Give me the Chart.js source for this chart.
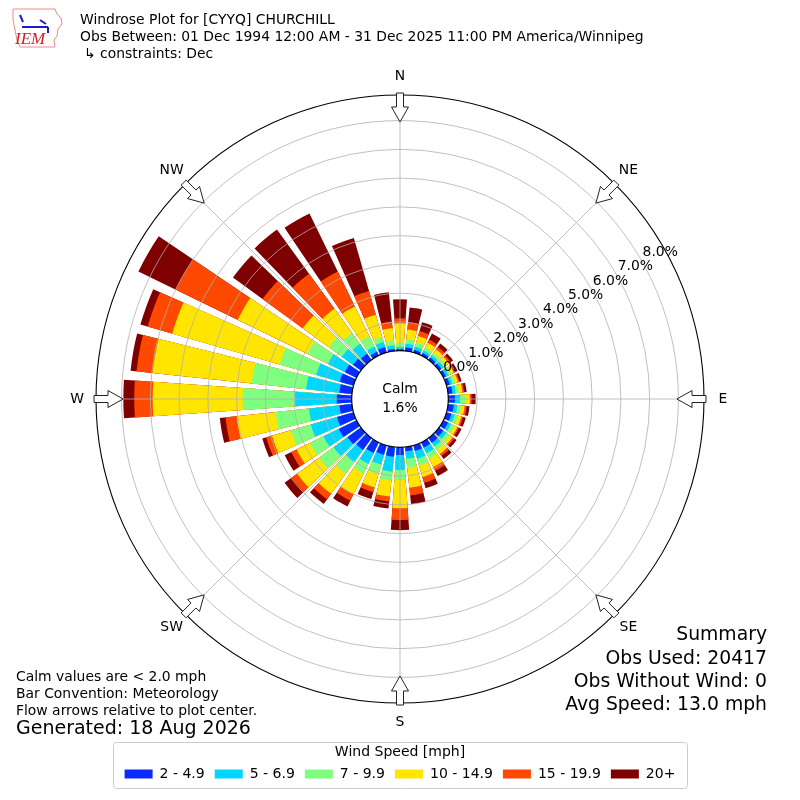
<!DOCTYPE html>
<html>
<head>
<meta charset="utf-8">
<title>Windrose Plot for [CYYQ] CHURCHILL</title>
<script src="https://cdn.jsdelivr.net/npm/chart.js@4.4.1/dist/chart.umd.min.js"></script>
<style>
  html, body { margin: 0; padding: 0; background: #fff; }
  #wrap { width: 800px; height: 800px; }
</style>
</head>
<body>
<div id="wrap"><canvas id="rose" width="800" height="800"></canvas></div>
<script>
// wind direction bins (degrees, meteorological), one bar each
const directions = [0, 10, 20, 30, 40, 50, 60, 70, 80, 90, 100, 110, 120, 130, 140, 150, 160, 170,
                    180, 190, 200, 210, 220, 230, 240, 250, 260, 270, 280, 290, 300, 310, 320, 330, 340, 350];

const speedBins = ['2 - 4.9', '5 - 6.9', '7 - 9.9', '10 - 14.9', '15 - 19.9', '20+'];
const binColors = ['#0a2bff', '#00d6ff', '#7fff7f', '#ffe500', '#ff4800', '#7f0000'];

// percent of observations per direction, per speed class
const spd2to5 = [0.06, 0.12, 0.10, 0.10, 0.10, 0.10, 0.10, 0.12, 0.15, 0.23, 0.20, 0.18, 0.18, 0.18, 0.20, 0.20, 0.20, 0.15,
                 0.27, 0.34, 0.34, 0.41, 0.51, 0.58, 0.69, 0.60, 0.44, 0.52, 0.44, 0.50, 0.45, 0.34, 0.27, 0.15, 0.20, 0.08];
const spd5to7 = [0.07, 0.13, 0.12, 0.10, 0.10, 0.10, 0.10, 0.10, 0.12, 0.18, 0.13, 0.12, 0.12, 0.14, 0.16, 0.22, 0.28, 0.26,
                 0.52, 0.52, 0.35, 0.42, 0.52, 0.59, 0.59, 0.95, 1.06, 1.45, 1.16, 0.85, 0.65, 0.48, 0.42, 0.20, 0.18, 0.12];
const spd7to10 = [0.15, 0.17, 0.14, 0.12, 0.10, 0.10, 0.10, 0.10, 0.11, 0.17, 0.12, 0.12, 0.12, 0.13, 0.14, 0.20, 0.24, 0.31,
                  0.35, 0.31, 0.34, 0.37, 0.49, 0.63, 0.52, 0.70, 1.17, 1.82, 1.90, 1.32, 0.80, 0.56, 0.48, 0.40, 0.19, 0.17];
const spd10to15 = [0.67, 0.33, 0.24, 0.18, 0.15, 0.12, 0.10, 0.10, 0.12, 0.17, 0.13, 0.12, 0.12, 0.13, 0.18, 0.33, 0.42, 0.70,
                   0.98, 0.56, 0.49, 0.80, 0.87, 0.94, 0.52, 0.70, 1.36, 3.13, 3.47, 3.89, 2.70, 1.12, 1.03, 1.15, 0.80, 0.43];
const spd15to20 = [0.18, 0.25, 0.18, 0.12, 0.10, 0.08, 0.07, 0.06, 0.06, 0.06, 0.07, 0.06, 0.06, 0.07, 0.09, 0.15, 0.21, 0.27,
                   0.41, 0.17, 0.17, 0.25, 0.24, 0.24, 0.21, 0.21, 0.39, 0.64, 0.56, 0.89, 2.40, 1.73, 1.50, 1.35, 0.86, 0.23];
const spd20plus = [0.66, 0.52, 0.32, 0.23, 0.15, 0.10, 0.08, 0.07, 0.09, 0.14, 0.10, 0.10, 0.10, 0.10, 0.13, 0.20, 0.20, 0.31,
                   0.35, 0.25, 0.25, 0.23, 0.20, 0.30, 0.25, 0.14, 0.20, 0.38, 0.21, 0.26, 1.44, 1.27, 1.90, 2.25, 1.91, 1.02];

const ringTicks = [0, 1, 2, 3, 4, 5, 6, 7, 8];
const compass = ['N', 'NE', 'E', 'SE', 'S', 'SW', 'W', 'NW'];
const calmPct = 1.6;

// radial axis: 0% sits on the edge of the calm circle
const rMin = -1.68;
const rMax = 8.89;
const barDeg = 8, gapDeg = 2;

Chart.defaults.font.family = "'DejaVu Sans', sans-serif";
Chart.defaults.color = '#000';

// every direction becomes a bar slot followed by an empty gap slot
const labels = [];
directions.forEach(d => { labels.push(d + '°'); labels.push(''); });

const series = [spd2to5, spd5to7, spd7to10, spd10to15, spd15to20, spd20plus];
const datasets = series.map((s, k) => {
  const data = [];
  directions.forEach((d, i) => {
    let cum = 0;
    for (let j = 0; j <= k; j++) cum += series[j][i];
    data.push(+cum.toFixed(3));
    data.push(0);
  });
  return {
    label: speedBins[k],
    data: data,
    backgroundColor: c => (c.dataIndex % 2 ? 'rgba(0,0,0,0)' : binColors[k]),
    borderWidth: 0,
    angle: c => (c.dataIndex % 2 ? gapDeg : barDeg)
  };
});

function txt(ctx, s, x, y, size, align) {
  ctx.font = size + "px 'DejaVu Sans', sans-serif";
  ctx.textAlign = align || 'left';
  ctx.textBaseline = 'middle';
  ctx.fillStyle = '#000';
  ctx.fillText(s, x, y);
}

function arrow(ctx, cx, cy, deg) {
  const a = deg * Math.PI / 180;
  const dx = Math.sin(a), dy = -Math.cos(a);
  const px = Math.cos(a), py = Math.sin(a);
  const tip = 277;
  const pts = [[0, 0], [8.5, 15], [3.5, 15], [3.5, 29], [-3.5, 29], [-3.5, 15], [-8.5, 15]];
  ctx.beginPath();
  pts.forEach((p, i) => {
    const x = cx + (tip + p[1]) * dx + p[0] * px;
    const y = cy + (tip + p[1]) * dy + p[0] * py;
    if (i === 0) ctx.moveTo(x, y); else ctx.lineTo(x, y);
  });
  ctx.closePath();
  ctx.fillStyle = '#fff';
  ctx.fill();
  ctx.strokeStyle = '#222';
  ctx.lineWidth = 1;
  ctx.stroke();
}

function logo(ctx) {
  ctx.save();
  ctx.strokeStyle = '#ee8a8a';
  ctx.lineWidth = 1;
  ctx.beginPath();
  ctx.moveTo(13, 9); ctx.lineTo(55, 9); ctx.lineTo(57, 14); ctx.lineTo(61, 18);
  ctx.lineTo(62, 24); ctx.lineTo(58, 29); ctx.lineTo(57, 36); ctx.lineTo(54, 40);
  ctx.lineTo(55, 47); ctx.lineTo(20, 47); ctx.lineTo(17, 40); ctx.lineTo(15, 30);
  ctx.lineTo(13, 20); ctx.closePath();
  ctx.stroke();
  ctx.strokeStyle = '#1a1ad0';
  ctx.lineWidth = 2;
  ctx.beginPath();
  ctx.moveTo(22, 27); ctx.lineTo(48, 27);
  ctx.moveTo(40, 20); ctx.lineTo(46, 24);
  ctx.moveTo(20, 15); ctx.lineTo(23, 22);
  ctx.moveTo(48, 27); ctx.lineTo(48, 33);
  ctx.stroke();
  ctx.fillStyle = '#d62020';
  ctx.font = "italic 17px 'Liberation Serif', serif";
  ctx.textAlign = 'left';
  ctx.textBaseline = 'alphabetic';
  ctx.fillText('IEM', 15, 44);
  ctx.restore();
}

const decorations = {
  id: 'decorations',
  afterDatasetsDraw(chart) {
    const s = chart.scales.r;
    const ctx = chart.ctx;
    ctx.save();
    ctx.strokeStyle = '#b0b0b0';
    ctx.lineWidth = 0.8;
    for (let k = 0; k < 8; k++) {
      const a = k * Math.PI / 4;
      ctx.beginPath();
      ctx.moveTo(s.xCenter, s.yCenter);
      ctx.lineTo(s.xCenter + s.drawingArea * Math.sin(a), s.yCenter - s.drawingArea * Math.cos(a));
      ctx.stroke();
    }
    ctx.restore();
  },
  afterDraw(chart) {
    const s = chart.scales.r;
    const ctx = chart.ctx;
    const cx = s.xCenter, cy = s.yCenter;
    ctx.save();

    // outer frame
    ctx.strokeStyle = '#000';
    ctx.lineWidth = 1.1;
    ctx.beginPath();
    ctx.arc(cx, cy, s.getDistanceFromCenterForValue(rMax), 0, Math.PI * 2);
    ctx.stroke();

    // calm circle
    const hole = s.getDistanceFromCenterForValue(0);
    ctx.beginPath();
    ctx.arc(cx, cy, hole, 0, Math.PI * 2);
    ctx.fillStyle = '#fff';
    ctx.fill();
    ctx.lineWidth = 1.2;
    ctx.stroke();
    txt(ctx, 'Calm', cx, cy - 10, 13.9, 'center');
    txt(ctx, calmPct.toFixed(1) + '%', cx, cy + 9, 13.9, 'center');

    // ring labels
    const la = 60 * Math.PI / 180;
    ringTicks.forEach(t => {
      const p = s.getDistanceFromCenterForValue(t);
      txt(ctx, t.toFixed(1) + '%', cx + p * Math.sin(la) + 1.5, cy - p * Math.cos(la) - 7.5, 13.9, 'left');
    });

    // compass arrows and labels
    compass.forEach((lab, i) => {
      const deg = i * 45;
      arrow(ctx, cx, cy, deg);
      const a = deg * Math.PI / 180;
      txt(ctx, lab, cx + 323 * Math.sin(a), cy - 323 * Math.cos(a), 13.9, 'center');
    });

    // header
    logo(ctx);
    txt(ctx, 'Windrose Plot for [CYYQ] CHURCHILL', 80, 20, 13.9);
    txt(ctx, 'Obs Between: 01 Dec 1994 12:00 AM - 31 Dec 2025 11:00 PM America/Winnipeg', 80, 37, 13.9);
    txt(ctx, '\u21b3 constraints: Dec', 84, 54, 13.9);

    // footnotes
    txt(ctx, 'Calm values are < 2.0 mph', 16, 677, 13.9);
    txt(ctx, 'Bar Convention: Meteorology', 16, 694, 13.9);
    txt(ctx, 'Flow arrows relative to plot center.', 16, 711, 13.9);
    txt(ctx, 'Generated: 18 Aug 2026', 16, 729, 19);

    // summary
    txt(ctx, 'Summary', 767, 635, 18.8, 'right');
    txt(ctx, 'Obs Used: 20417', 767, 659, 18.8, 'right');
    txt(ctx, 'Obs Without Wind: 0', 767, 682, 18.8, 'right');
    txt(ctx, 'Avg Speed: 13.0 mph', 767, 705, 18.8, 'right');

    // legend frame
    ctx.strokeStyle = '#cccccc';
    ctx.lineWidth = 1;
    ctx.beginPath();
    ctx.roundRect(113.5, 742.5, 574, 46, 3);
    ctx.stroke();
    ctx.restore();
  }
};

new Chart(document.getElementById('rose'), {
  type: 'polarArea',
  data: { labels: labels, datasets: datasets },
  options: {
    responsive: false,
    animation: false,
    events: [],
    layout: { padding: { left: 96, right: 96, top: 53, bottom: 9 } },
    scales: {
      r: {
        min: rMin,
        max: rMax,
        startAngle: -barDeg / 2,
        ticks: { display: false, stepSize: 1, z: 1 },
        grid: {
          circular: true,
          z: 1,
          lineWidth: 0.8,
          color: c => (c.tick.value < 0.5 || c.tick.value > 8.5 ? 'rgba(0,0,0,0)' : '#b0b0b0')
        },
        angleLines: { display: false },
        pointLabels: { display: false }
      }
    },
    plugins: {
      tooltip: { enabled: false },
      legend: {
        position: 'bottom',
        title: { display: true, text: 'Wind Speed [mph]', font: { size: 14, lineHeight: 0.857 }, padding: 0, color: '#000' },
        labels: {
          font: { size: 14 },
          color: '#000',
          boxWidth: 28,
          boxHeight: 9,
          padding: 10,
          generateLabels: chart => chart.data.datasets.map((ds, i) => ({
            text: ds.label,
            fillStyle: binColors[i],
            strokeStyle: binColors[i],
            lineWidth: 0,
            hidden: false,
            datasetIndex: i
          }))
        }
      }
    }
  },
  plugins: [decorations]
});
</script>
</body>
</html>
